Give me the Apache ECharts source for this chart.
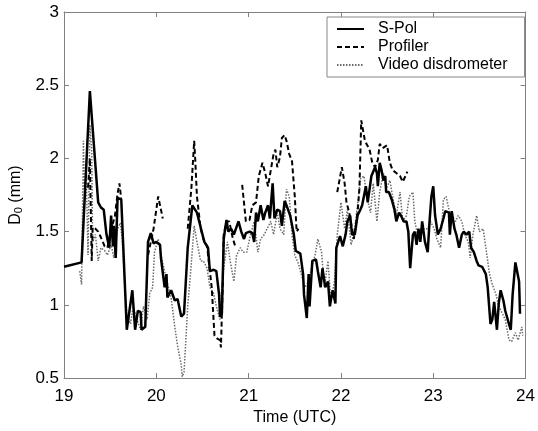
<!DOCTYPE html>
<html>
<head>
<meta charset="utf-8">
<script src="https://cdn.jsdelivr.net/npm/echarts@6/dist/echarts.min.js"></script>
<style>html,body{margin:0;padding:0;background:#fff}#c{width:538px;height:431px}</style>
</head>
<body>
<div id="c"></div>
<script>
// ---- data (time in UTC hours, D0 in mm) ----
const seriesNames = ['S-Pol', 'Profiler', 'Video disdrometer'];
const xTicks = [19, 20, 21, 22, 23, 24];
const yTicks = [0.5, 1, 1.5, 2, 2.5, 3];

const spolTime = [19.00,19.19,19.28,19.37,19.40,19.43,19.46,19.49,19.51,19.53,19.54,19.56,19.58,19.62,19.68,19.74,19.77,19.80,19.83,19.84,19.88,19.91,19.94,19.97,20.00,20.04,20.05,20.09,20.11,20.12,20.16,20.20,20.23,20.27,20.30,20.34,20.39,20.44,20.48,20.52,20.56,20.58,20.62,20.65,20.68,20.69,20.71,20.73,20.76,20.78,20.81,20.84,20.86,20.89,20.92,20.95,20.97,21.01,21.04,21.06,21.08,21.10,21.13,21.16,21.18,21.21,21.23,21.26,21.28,21.31,21.34,21.36,21.39,21.41,21.45,21.49,21.51,21.56,21.59,21.60,21.63,21.65,21.66,21.69,21.73,21.75,21.78,21.80,21.83,21.86,21.88,21.91,21.94,21.95,21.99,22.02,22.05,22.07,22.10,22.12,22.15,22.18,22.21,22.23,22.27,22.29,22.33,22.37,22.39,22.40,22.42,22.44,22.46,22.48,22.49,22.52,22.55,22.58,22.60,22.63,22.65,22.68,22.71,22.73,22.75,22.78,22.80,22.82,22.84,22.86,22.88,22.91,22.94,22.96,22.98,23.00,23.02,23.05,23.08,23.11,23.13,23.17,23.18,23.20,23.23,23.25,23.28,23.31,23.33,23.36,23.39,23.41,23.44,23.47,23.49,23.53,23.57,23.59,23.62,23.64,23.66,23.69,23.71,23.73,23.76,23.78,23.82,23.84,23.86,23.89,23.91,23.93,23.94];
const spolD = [1.26,1.29,2.46,1.70,1.665,1.65,1.48,1.39,1.61,1.40,1.54,1.32,1.73,1.72,0.83,1.10,0.83,0.96,0.95,0.83,0.85,1.43,1.49,1.42,1.43,1.41,1.32,1.12,1.21,1.05,1.10,1.03,1.04,0.92,0.94,1.39,1.68,1.63,1.53,1.43,1.39,1.23,1.24,1.23,1.07,0.92,0.94,1.45,1.58,1.50,1.52,1.48,1.48,1.57,1.50,1.45,1.49,1.50,1.49,1.43,1.63,1.57,1.68,1.58,1.63,1.68,1.59,1.83,1.59,1.65,1.64,1.54,1.71,1.68,1.61,1.48,1.37,1.35,1.21,1.07,0.91,1.21,0.99,1.30,1.31,1.23,1.12,1.25,1.12,1.16,0.99,1.10,1.01,1.39,1.47,1.40,1.48,1.57,1.61,1.48,1.48,1.61,1.65,1.68,1.81,1.70,1.88,1.94,1.90,1.81,1.97,1.92,1.85,1.88,1.77,1.77,1.72,1.65,1.57,1.63,1.61,1.57,1.57,1.50,1.25,1.48,1.50,1.41,1.52,1.43,1.57,1.43,1.36,1.57,1.74,1.81,1.61,1.48,1.52,1.59,1.64,1.63,1.48,1.64,1.52,1.48,1.39,1.48,1.50,1.48,1.50,1.39,1.36,1.30,1.27,1.26,1.21,1.12,0.87,0.90,1.02,0.83,1.01,1.10,1.03,0.96,0.87,0.83,1.07,1.29,1.30,1.16,0.94];

const profTime = [19.26,19.28,19.30,19.31,19.34,19.37,19.40,19.44,19.47,19.51,19.55,19.58,19.60,19.62,null,19.91,19.97,20.02,20.04,20.07,null,20.34,20.38,20.41,20.42,20.44,20.48,20.51,20.55,20.60,20.63,20.66,20.69,20.70,20.72,20.73,20.76,20.79,20.83,20.86,null,20.93,20.97,21.01,21.04,21.08,21.11,21.15,21.18,21.21,21.24,21.27,21.29,21.31,21.34,21.36,21.39,21.41,21.44,21.47,21.50,21.52,21.54,null,21.96,22.01,22.04,22.06,22.09,22.14,22.18,22.20,22.22,22.26,22.28,22.31,22.34,22.37,22.40,22.42,22.45,22.47,22.50,22.53,22.56,22.60,22.64,22.67,22.72];
const profD = [1.80,2.00,1.30,1.53,1.52,1.50,1.46,1.40,1.39,1.52,1.60,1.76,1.83,1.72,null,1.34,1.52,1.74,1.73,1.59,null,1.52,1.80,2.12,2.01,1.74,1.52,1.45,1.40,1.12,0.79,0.77,0.76,0.71,1.16,1.48,1.57,1.57,1.45,1.39,null,1.82,1.57,1.58,1.68,1.70,1.88,1.97,1.90,1.81,1.92,2.03,2.06,1.94,2.01,2.14,2.16,2.12,2.03,1.98,1.74,1.50,1.52,null,1.77,1.94,1.83,1.70,1.63,1.45,1.63,1.79,2.26,2.12,2.11,2.06,1.97,1.94,1.99,2.10,2.07,2.08,2.09,1.97,1.92,1.90,1.88,1.84,1.91];

const videoTime = [19.17,19.19,19.21,19.22,19.24,19.26,19.28,19.30,19.31,19.34,19.37,19.40,19.44,19.47,19.51,19.54,19.58,19.61,19.63,19.66,19.68,19.72,19.75,19.79,19.83,19.86,19.90,19.93,19.96,19.98,20.02,20.05,20.09,20.13,20.16,20.20,20.23,20.27,20.28,20.30,20.34,20.37,20.41,20.44,20.48,20.51,20.55,20.58,20.62,20.65,20.69,20.70,20.73,20.77,20.80,20.84,20.87,20.91,20.94,20.98,21.02,21.06,21.10,21.13,21.17,21.20,21.24,21.27,21.31,21.34,21.38,21.41,21.44,21.47,21.50,21.54,21.57,21.61,21.65,21.68,21.72,21.75,21.79,21.82,21.86,21.89,21.93,21.96,22.00,22.04,22.07,22.11,22.14,22.18,22.21,22.25,22.28,22.32,22.35,22.39,22.42,22.46,22.49,22.53,22.56,22.60,22.64,22.67,22.71,22.74,22.78,22.80,22.83,22.87,22.90,22.94,22.97,23.01,23.04,23.08,23.11,23.14,23.17,23.20,23.24,23.27,23.31,23.34,23.38,23.40,23.43,23.47,23.50,23.54,23.57,23.61,23.64,23.68,23.71,23.75,23.78,23.82,23.85,23.89,23.92,23.96,23.97];
const videoD = [1.23,1.14,2.12,1.79,1.90,1.34,2.23,2.05,1.43,1.48,1.30,1.39,1.37,1.34,1.41,1.32,1.52,1.56,1.45,1.12,0.94,0.87,0.99,0.90,0.83,0.99,0.90,1.08,1.12,1.36,1.45,1.34,1.23,1.12,1.05,0.85,0.72,0.59,0.51,0.54,0.99,1.21,1.54,1.43,1.30,1.30,1.25,1.12,1.08,0.99,0.90,1.05,1.25,1.43,1.30,1.16,1.34,1.39,1.36,1.36,1.48,1.57,1.36,1.45,1.48,1.52,1.57,1.48,1.63,1.52,1.48,1.79,1.74,1.48,1.34,1.28,1.21,1.12,1.16,1.25,1.34,1.45,1.36,1.12,1.30,1.03,1.16,1.48,1.70,1.52,1.65,1.41,1.48,1.68,1.86,1.88,1.74,1.63,1.83,1.57,1.77,1.90,1.79,1.85,1.74,1.61,1.77,1.57,1.61,1.74,1.77,1.57,1.48,1.52,1.52,1.52,1.57,1.52,1.45,1.39,1.72,1.74,1.65,1.59,1.57,1.61,1.57,1.48,1.43,1.32,1.48,1.61,1.50,1.52,1.39,1.21,1.14,1.07,0.99,0.94,0.90,0.76,0.75,0.81,0.76,0.85,0.79];

// ---- build pairs ----
function pairs(t, v) { return t.map((x, i) => (x === null || v[i] === null) ? [null, null] : [x, v[i]]); }

const FONT = '"Liberation Sans", Arial, sans-serif';
const AX = '#808080';

const chart = echarts.init(document.getElementById('c'), null, { renderer: 'canvas' });
const baseX = { type: 'value', min: xTicks[0], max: xTicks[xTicks.length - 1], interval: 1,
  axisLine: { show: true, lineStyle: { color: AX, width: 1 } },
  axisTick: { show: true, inside: true, length: 5, lineStyle: { color: AX } },
  splitLine: { show: false } };
const baseY = { type: 'value', min: yTicks[0], max: yTicks[yTicks.length - 1], interval: 0.5,
  axisLine: { show: true, lineStyle: { color: AX, width: 1 } },
  axisTick: { show: true, inside: true, length: 5, lineStyle: { color: AX } },
  splitLine: { show: false } };

chart.setOption({
  animation: false,
  backgroundColor: '#fff',
  grid: { left: 55, right: 11, top: 12, bottom: 45, containLabel: false },
  legend: {
    orient: 'vertical', left: 327, top: 17,
    padding: [4, 17, 4, 9], itemGap: 2, itemWidth: 27, itemHeight: 10,
    borderColor: '#888', borderWidth: 1, backgroundColor: '#fff',
    itemStyle: { opacity: 0 },
    textStyle: { fontSize: 16, fontFamily: FONT, color: '#000', padding: [0, 0, 0, 9] },
    data: seriesNames
  },
  xAxis: [
    Object.assign({}, baseX, { position: 'bottom',
      axisLabel: { show: true, fontSize: 17, fontFamily: FONT, color: '#000', margin: 10,
        formatter: v => String(v) },
      name: 'Time (UTC)', nameLocation: 'middle', nameGap: 29,
      nameTextStyle: { fontSize: 16, fontFamily: FONT, color: '#000' } }),
    Object.assign({}, baseX, { position: 'top', axisLabel: { show: false } })
  ],
  yAxis: [
    Object.assign({}, baseY, { position: 'left',
      axisLabel: { show: true, fontSize: 17, fontFamily: FONT, color: '#000', margin: 5,
        formatter: v => String(v) },
      name: '{a|D}{b|0}{a| (mm)}', nameLocation: 'middle', nameGap: 29, nameRotate: 90,
      nameTextStyle: { fontSize: 16, fontFamily: FONT, color: '#000',
        rich: { a: { fontSize: 16, fontFamily: FONT, color: '#000' },
                b: { fontSize: 11, fontFamily: FONT, color: '#000', verticalAlign: 'bottom', padding: [6, 0, 0, 0] } } } }),
    Object.assign({}, baseY, { position: 'right', axisLabel: { show: false } })
  ],
  series: [
    { name: seriesNames[2], type: 'line', data: pairs(videoTime, videoD), showSymbol: false, symbol: 'none',
      connectNulls: false, z: 1,
      lineStyle: { color: '#6a6a6a', width: 1.5, type: [1.5, 1.5] }, itemStyle: { color: '#6a6a6a' } },
    { name: seriesNames[1], type: 'line', data: pairs(profTime, profD), showSymbol: false, symbol: 'none',
      connectNulls: false, z: 2,
      lineStyle: { color: '#000', width: 2, type: [5, 3] }, itemStyle: { color: '#000' } },
    { name: seriesNames[0], type: 'line', data: pairs(spolTime, spolD), showSymbol: false, symbol: 'none',
      z: 3,
      lineStyle: { color: '#000', width: 2.5, type: 'solid' }, itemStyle: { color: '#000' } }
  ]
});
</script>
</body>
</html>
